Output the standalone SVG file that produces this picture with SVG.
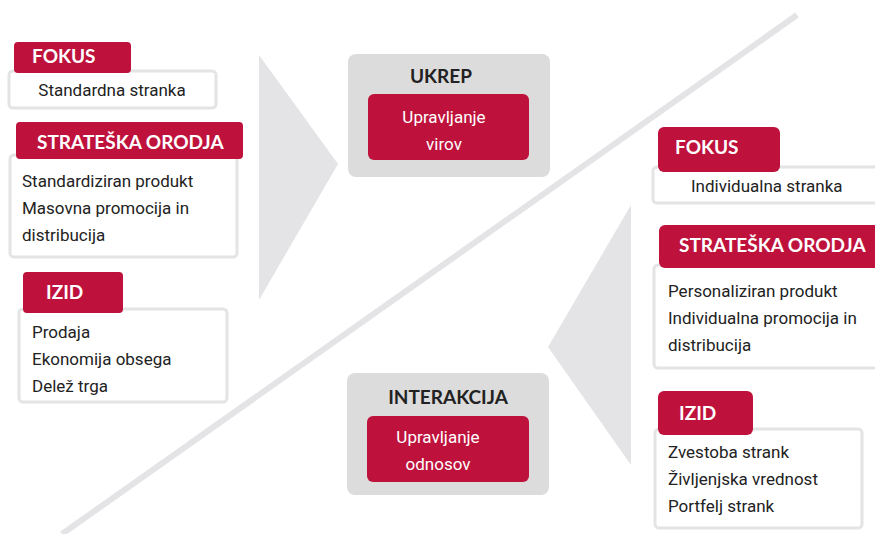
<svg xmlns="http://www.w3.org/2000/svg" width="875" height="534" viewBox="0 0 875 534">
<style>
.bg{fill:#e4e4e6}
.box{fill:#fff;stroke:#e4e4e6;stroke-width:3}
.tab{fill:#be123c}
.gray{fill:#dcdcdc}
.t{font-family:Roboto,"Liberation Sans",sans-serif;font-size:17px;fill:#222}
.tw{font-family:Roboto,"Liberation Sans",sans-serif;font-size:17px;fill:#fff}
.h{font-family:Lato,"Liberation Sans",sans-serif;font-weight:bold;font-size:19px;fill:#fff}
.hd{font-family:Lato,"Liberation Sans",sans-serif;font-weight:bold;font-size:19px;fill:#222}
</style>
<g id="connectors">
<polygon class="bg" points="259,55 338,164 259,300"/>
<polygon class="bg" points="631,205 548,347 631,465"/>
<line x1="797" y1="15" x2="62" y2="534" stroke="#e4e4e6" stroke-width="6"/>
</g>
<g id="left-fokus">
<rect class="box" x="9" y="71" width="207" height="37" rx="4"/>
<rect class="tab" x="14" y="42" width="117" height="31" rx="4"/>
<text class="h" x="32" y="63">FOKUS</text>
<text class="t" x="112" y="96" text-anchor="middle">Standardna stranka</text>
</g>
<g id="left-orodja">
<rect class="box" x="10" y="155" width="227" height="102" rx="4"/>
<rect class="tab" x="16" y="122" width="227" height="37" rx="4"/>
<text class="h" x="37" y="149">STRATEŠKA ORODJA</text>
<text class="t" x="22" y="187">Standardiziran produkt</text>
<text class="t" x="22" y="214">Masovna promocija in</text>
<text class="t" x="22" y="241">distribucija</text>
</g>
<g id="left-izid">
<rect class="box" x="19" y="309" width="208" height="93" rx="4"/>
<rect class="tab" x="23" y="272" width="100" height="41" rx="4"/>
<text class="h" x="46" y="299">IZID</text>
<text class="t" x="32" y="338">Prodaja</text>
<text class="t" x="32" y="365">Ekonomija obsega</text>
<text class="t" x="32" y="392">Delež trga</text>
</g>
<g id="ukrep">
<rect class="gray" x="348" y="54" width="202" height="123" rx="8"/>
<text class="hd" x="441" y="83" text-anchor="middle">UKREP</text>
<rect class="tab" x="368" y="94" width="161" height="66" rx="6"/>
<text class="tw" x="444" y="123" text-anchor="middle">Upravljanje</text>
<text class="tw" x="444" y="150" text-anchor="middle">virov</text>
</g>
<g id="interakcija">
<rect class="gray" x="347" y="373" width="202" height="122" rx="8"/>
<text class="hd" x="448" y="404" text-anchor="middle">INTERAKCIJA</text>
<rect class="tab" x="367" y="416" width="162" height="66" rx="6"/>
<text class="tw" x="438" y="443" text-anchor="middle">Upravljanje</text>
<text class="tw" x="438" y="470" text-anchor="middle">odnosov</text>
</g>
<g id="right-fokus">
<rect class="box" x="653" y="167" width="240" height="36" rx="4"/>
<rect class="tab" x="658" y="127" width="122" height="45" rx="6"/>
<text class="h" x="675" y="154">FOKUS</text>
<text class="t" x="691" y="192">Individualna stranka</text>
</g>
<g id="right-orodja">
<rect class="box" x="654" y="265" width="240" height="103" rx="4"/>
<rect class="tab" x="659" y="225" width="240" height="43" rx="6"/>
<text class="h" x="679" y="252">STRATEŠKA ORODJA</text>
<text class="t" x="668" y="297">Personaliziran produkt</text>
<text class="t" x="668" y="324">Individualna promocija in</text>
<text class="t" x="668" y="351">distribucija</text>
</g>
<g id="right-izid">
<rect class="box" x="655" y="429" width="207" height="99" rx="4"/>
<rect class="tab" x="658" y="391" width="95" height="44" rx="6"/>
<text class="h" x="679" y="420">IZID</text>
<text class="t" x="668" y="458">Zvestoba strank</text>
<text class="t" x="668" y="485">Življenjska vrednost</text>
<text class="t" x="668" y="512">Portfelj strank</text>
</g>
</svg>
